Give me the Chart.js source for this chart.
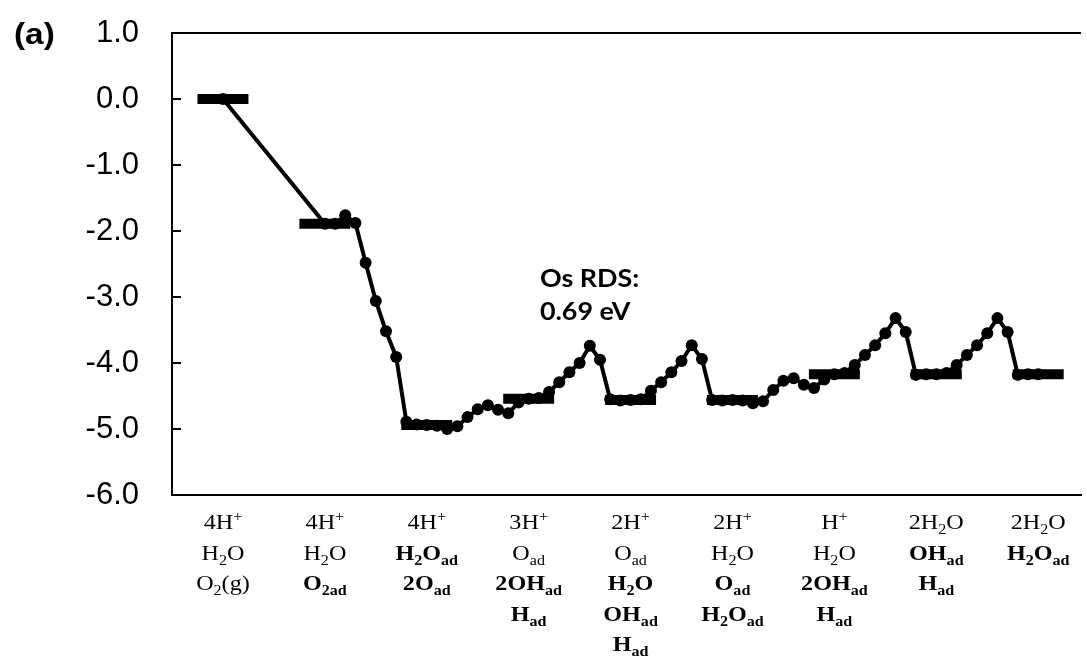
<!DOCTYPE html>
<html>
<head>
<meta charset="utf-8">
<script src="https://cdn.jsdelivr.net/npm/chart.js@4.4.1/dist/chart.umd.min.js"></script>
<style>
  html, body { margin: 0; padding: 0; background: #fff; overflow: hidden; }
  canvas { display: block; }
</style>
</head>
<body>
<canvas id="c" width="1087" height="657"></canvas>
<script>
// Species present at each intermediate state. "*" = bold line,
// _{..} = subscript, ^{..} = superscript.
const stateLabels = [
  ["4H^{+}", "H_{2}O", "O_{2}(g)"],
  ["4H^{+}", "H_{2}O", "*O_{2ad}"],
  ["4H^{+}", "*H_{2}O_{ad}", "*2O_{ad}"],
  ["3H^{+}", "O_{ad}", "*2OH_{ad}", "*H_{ad}"],
  ["2H^{+}", "O_{ad}", "*H_{2}O", "*OH_{ad}", "*H_{ad}"],
  ["2H^{+}", "H_{2}O", "*O_{ad}", "*H_{2}O_{ad}"],
  ["H^{+}", "H_{2}O", "*2OH_{ad}", "*H_{ad}"],
  ["2H_{2}O", "*OH_{ad}", "*H_{ad}"],
  ["2H_{2}O", "*H_{2}O_{ad}"]
];

// Free energy of each intermediate state (eV)
const stateEnergy = [0.00, -1.89, -4.94, -4.54, -4.56, -4.56, -4.17, -4.17, -4.17];

// Images along the reaction path: reaction coordinate and energy (eV)
const pathCoord = [
  0.0, 1.0, 1.1, 1.2, 1.3, 1.4, 1.5, 1.6, 1.7, 1.8, 1.9,
  2.0, 2.1, 2.2, 2.3, 2.4, 2.5, 2.6, 2.7, 2.8, 2.9,
  3.0, 3.1, 3.2, 3.3, 3.4, 3.5, 3.6, 3.7, 3.8, 3.9,
  4.0, 4.1, 4.2, 4.3, 4.4, 4.5, 4.6, 4.7, 4.8, 4.9,
  5.0, 5.1, 5.2, 5.3, 5.4, 5.5, 5.6, 5.7, 5.8, 5.9,
  6.0, 6.1, 6.2, 6.3, 6.4, 6.5, 6.6, 6.7, 6.8, 6.9,
  7.0, 7.1, 7.2, 7.3, 7.4, 7.5, 7.6, 7.7, 7.8, 7.9, 8.0
];
const pathEnergy = [
  0.00, -1.89, -1.89, -1.76, -1.88, -2.48, -3.06, -3.52, -3.91, -4.89, -4.93,
  -4.94, -4.95, -5.00, -4.96, -4.82, -4.70, -4.64, -4.71, -4.76, -4.60,
  -4.54, -4.53, -4.44, -4.29, -4.14, -4.00, -3.74, -3.95, -4.55, -4.57,
  -4.56, -4.55, -4.42, -4.29, -4.14, -3.97, -3.73, -3.94, -4.56, -4.57,
  -4.56, -4.57, -4.61, -4.58, -4.41, -4.27, -4.23, -4.33, -4.38, -4.25,
  -4.17, -4.15, -4.03, -3.88, -3.73, -3.55, -3.32, -3.53, -4.18, -4.17,
  -4.17, -4.15, -4.03, -3.88, -3.73, -3.55, -3.32, -3.53, -4.18, -4.17, -4.17
];

// Energy axis range and tick spacing (eV)
const energyMin = -6;
const energyMax = 1;
const energyStep = 0.5;

// Annotation text
const noteLines = ["Os RDS:", "0.69 eV"];
const panelTag = "(a)";

const LEVEL_HALF = 0.25;
const levelPoints = [];
stateEnergy.forEach((e, i) => {
  levelPoints.push({ x: i - LEVEL_HALF, y: e }, { x: i + LEVEL_HALF, y: e }, { x: i + LEVEL_HALF, y: null });
});
const pathPoints = pathCoord.map((c, i) => ({ x: c, y: pathEnergy[i] }));

// --- rich text helpers (sub/superscripts, bold lines) ---
function parseRich(s) {
  let bold = false;
  if (s[0] === '*') { bold = true; s = s.slice(1); }
  const runs = [];
  const re = /([_^])\{([^}]*)\}|([^_^]+)/g;
  let m;
  while ((m = re.exec(s))) {
    if (m[3]) runs.push({ t: m[3], k: 0 });
    else runs.push({ t: m[2], k: m[1] === '_' ? 1 : -1 });
  }
  return { bold, runs };
}

function drawRich(ctx, s, cx, base, size, family, sx) {
  const { bold, runs } = parseRich(s);
  const w = bold ? 'bold ' : '';
  const fontFor = k => `${w}${k ? Math.round(size * 0.66) : size}px ${family}`;
  let total = 0;
  for (const r of runs) { ctx.font = fontFor(r.k); r.w = ctx.measureText(r.t).width; total += r.w; }
  ctx.save();
  ctx.translate(cx, base);
  ctx.scale(sx, 1);
  ctx.textAlign = 'left';
  ctx.textBaseline = 'alphabetic';
  let px = -total / 2;
  for (const r of runs) {
    ctx.font = fontFor(r.k);
    const dy = r.k === 1 ? size * 0.24 : (r.k === -1 ? -size * 0.36 : 0);
    ctx.fillText(r.t, px, dy);
    px += r.w;
  }
  ctx.restore();
}

function drawStretched(ctx, text, x, base, font, sx) {
  ctx.save();
  ctx.translate(x, base);
  ctx.scale(sx, 1);
  ctx.font = font;
  ctx.textAlign = 'left';
  ctx.textBaseline = 'alphabetic';
  ctx.fillText(text, 0, 0);
  ctx.restore();
}

const decor = {
  id: 'decor',
  afterDraw(chart) {
    const { ctx, chartArea: a, scales: { x, y } } = chart;
    ctx.save();
    ctx.strokeStyle = '#000';
    ctx.fillStyle = '#000';
    ctx.lineWidth = 2;
    // top frame line
    ctx.beginPath();
    ctx.moveTo(a.left, a.top);
    ctx.lineTo(a.right, a.top);
    ctx.stroke();
    // inward tick marks on the energy axis
    for (const t of y.ticks) {
      const py = Math.round(y.getPixelForValue(t.value));
      ctx.beginPath();
      ctx.moveTo(a.left, py);
      ctx.lineTo(a.left + 9, py);
      ctx.stroke();
    }
    // state labels under each level
    const serif = "'Liberation Serif', 'Times New Roman', serif";
    stateLabels.forEach((lines, i) => {
      const cx = x.getPixelForValue(i);
      lines.forEach((ln, k) => {
        drawRich(ctx, ln, cx, a.bottom + 34 + k * 30.5, 21, serif, 1.15);
      });
    });
    // barrier note
    const nx = x.getPixelForValue(3.11);
    const ny = y.getPixelForValue(-2.85);
    drawStretched(ctx, noteLines[0], nx, ny, "bold 24px Lato, 'Open Sans', sans-serif", 1.12);
    drawStretched(ctx, noteLines[1], nx, ny + 33, "bold 24px Lato, 'Open Sans', sans-serif", 1.12);
    // panel tag
    drawStretched(ctx, panelTag, 14, 44, "bold 29px 'Liberation Sans', Arial, sans-serif", 1.15);
    ctx.restore();
  }
};

new Chart(document.getElementById('c'), {
  type: 'line',
  data: {
    datasets: [
      {
        label: 'states',
        data: levelPoints,
        borderColor: '#000',
        borderWidth: 10,
        borderCapStyle: 'butt',
        pointRadius: 0,
        spanGaps: false,
        tension: 0,
        order: 1
      },
      {
        label: 'path',
        data: pathPoints,
        borderColor: '#000',
        backgroundColor: '#000',
        borderWidth: 4,
        pointRadius: 6,
        pointBackgroundColor: '#000',
        pointBorderWidth: 0,
        tension: 0,
        order: 2
      }
    ]
  },
  options: {
    responsive: false,
    animation: false,
    devicePixelRatio: 1,
    layout: { padding: { top: 33, left: 0, right: 0, bottom: 0 } },
    plugins: { legend: { display: false }, tooltip: { enabled: false } },
    scales: {
      x: {
        type: 'linear',
        min: -0.5,
        max: 8.42,
        ticks: { display: false },
        grid: { display: false },
        border: { display: true, color: '#000', width: 2 },
        afterFit: s => { s.height = 162; }
      },
      y: {
        type: 'linear',
        min: energyMin,
        max: energyMax,
        ticks: {
          stepSize: energyStep,
          padding: 25,
          color: '#000',
          font: { family: "'Liberation Sans', Arial, sans-serif", size: 31 },
          callback: v => (Number.isInteger(v) ? v.toFixed(1) : '')
        },
        grid: { display: false },
        border: { display: true, color: '#000', width: 2 },
        afterFit: s => { s.width = 172; s.paddingTop = 0; s.paddingBottom = 0; }
      }
    }
  },
  plugins: [decor]
});
</script>
</body>
</html>
